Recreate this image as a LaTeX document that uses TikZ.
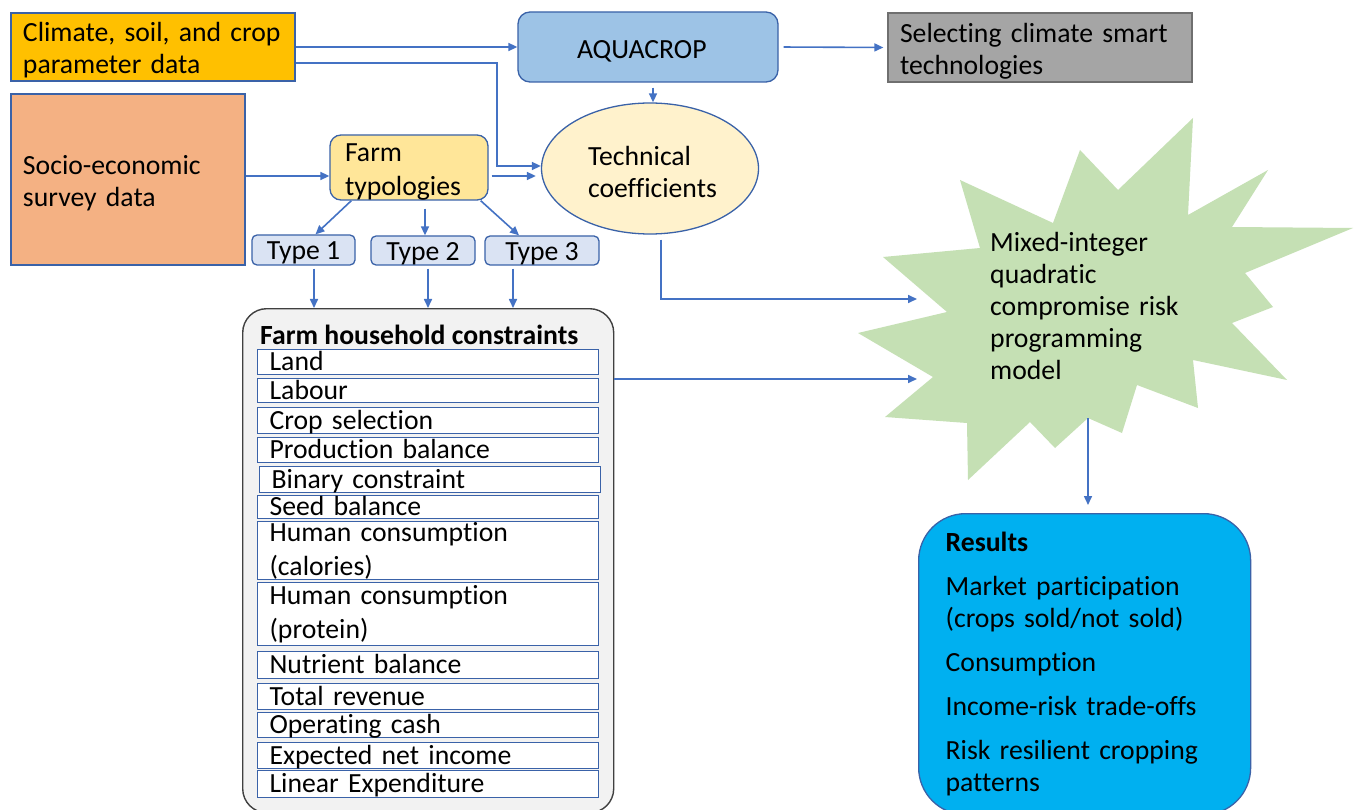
\documentclass[tikz,border=0pt]{standalone}
\usepackage{fontspec}
\setmainfont{Carlito}[Ligatures=NoCommon]
\usetikzlibrary{arrows.meta,calc,shapes.geometric}
\definecolor{bordc}{HTML}{3A62A8}
\definecolor{arrc}{HTML}{4472C4}
\definecolor{climc}{HTML}{FFC000}
\definecolor{socioc}{HTML}{F4B183}
\definecolor{aquac}{HTML}{9DC3E6}
\definecolor{selc}{HTML}{A5A5A5}
\definecolor{selb}{HTML}{6F6F6F}
\definecolor{farmc}{HTML}{FFE699}
\definecolor{techc}{HTML}{FFF2CC}
\definecolor{typc}{HTML}{DAE3F3}
\definecolor{consf}{HTML}{F2F2F2}
\definecolor{consb}{HTML}{404040}
\definecolor{starc}{HTML}{C5E0B4}
\definecolor{resc}{HTML}{00B0F0}
\begin{document}
\begin{tikzpicture}[x=1pt,y=-1pt,
  every node/.style={font=\fontsize{27.7}{32}\selectfont},
  box/.style={draw=bordc, line width=1.3pt, inner sep=0pt, align=left,
     execute at begin node={\rule{0pt}{26pt}}},
  typebox/.style={draw=bordc, line width=1.3pt, inner sep=0pt, fill=typc, rounded corners=5pt,
     align=center, execute at begin node={\rule{0pt}{24pt}}},
  rowbase/.style={draw=bordc, fill=white, line width=1.2pt, anchor=north west, inner sep=0pt,
     minimum width=341pt, text width=317pt, align=left},
  row/.style={rowbase, text height=19pt, text depth=2pt},
  arr/.style={draw=arrc, line width=1.6pt, -{Triangle[length=9pt,width=8pt]}}]
\useasboundingbox (0,0) rectangle (1357,810);
\clip (0,0) rectangle (1357,810);
\fill[white] (0,0) rectangle (1357,810);

% input boxes
\node[box, fill=climc, minimum width=284pt, minimum height=68pt, text width=260pt] (clim) at (153,47) {Climate, soil, and crop\\parameter data};
\node[box, fill=socioc, minimum width=234pt, minimum height=171pt, text width=210pt] (socio) at (128,179.5) {Socio-economic\\survey data};
\node[box, fill=aquac, rounded corners=12pt, minimum width=260pt, minimum height=70pt, text width=142pt] (aqua) at (648,47) {AQUACROP};
\node[box, draw=selb, fill=selc, minimum width=304pt, minimum height=69pt, text width=280pt] (sel) at (1040,47.5) {Selecting climate smart\\technologies};
\node[box, fill=farmc, rounded corners=11pt, minimum width=158pt, minimum height=65pt, text width=128pt] (farm) at (409,167.5) {Farm\\[2pt]typologies};
\node[box, ellipse, fill=techc, minimum width=217pt, minimum height=131pt, text width=124pt] (tech) at (650,168.5) {Technical\\coefficients};

% types
\node[typebox, minimum width=103pt, minimum height=30pt] (t1) at (303.5,250) {Type 1};
\node[typebox, minimum width=104pt, minimum height=29pt] (t2) at (423,250.5) {Type 2};
\node[typebox, minimum width=114pt, minimum height=29pt] (t3) at (542,250.5) {Type 3};

% constraints
\node[draw=consb, fill=consf, line width=1.4pt, rounded corners=24pt, minimum width=371pt, minimum height=504pt, anchor=north west, inner sep=0pt] (cons) at (242,308) {};
\node[anchor=base west, inner sep=0pt, font=\fontsize{27.7}{32}\selectfont\bfseries] (constitle) at (260,344) {Farm household constraints};
\node[row, minimum height=25pt] (r1) at (257,349) {Land};
\node[row, minimum height=24pt] (r2) at (257,378) {Labour};
\node[row, minimum height=26pt] (r3) at (257,407) {Crop selection};
\node[row, minimum height=25pt] (r4) at (257,437) {Production balance};
\node[row, minimum height=26pt] (r5) at (259,466) {Binary constraint};
\node[row, minimum height=23pt] (r6) at (257,495) {Seed balance};
\node[rowbase, minimum height=58pt] (r7) at (257,521) {Human consumption\\[2pt](calories)};
\node[rowbase, minimum height=63pt] (r8) at (257,582) {Human consumption\\[2pt](protein)};
\node[row, minimum height=27pt] (r9) at (257,651) {Nutrient balance};
\node[row, minimum height=26pt] (r10) at (257,683) {Total revenue};
\node[row, minimum height=25pt] (r11) at (257,712) {Operating cash};
\node[row, minimum height=26pt] (r12) at (257,742) {Expected net income};
\node[row, minimum height=27pt] (r13) at (257,770) {Linear Expenditure};

% star
\fill[starc] (960,180) -- (1053,223) -- (1080,150) -- (1118,190) -- (1193,118) -- (1188,215)
  -- (1268,170) -- (1232,227) -- (1353,228) -- (1245,273) -- (1273,307) -- (1232,323)
  -- (1287,380) -- (1193,360) -- (1198,408) -- (1137,385) -- (1122,433) -- (1088,418)
  -- (1055,448) -- (1030,422) -- (968,480) -- (967,423) -- (885,417) -- (933,377)
  -- (858,333) -- (947,312) -- (883,257) -- (980,248) -- cycle;
\node[anchor=west, text width=200pt, align=left, inner sep=0pt] (mip) at (990,306) {Mixed-integer\\quadratic\\compromise risk\\programming\\model};
\coordinate (mipin1) at (917,299);
\coordinate (mipin2) at (917,379);
\coordinate (mipout) at (1088,418);

% results
\node[draw=bordc, fill=resc, line width=1.3pt, rounded corners=47pt, anchor=north west, minimum width=332pt, minimum height=301pt, text width=278pt, align=left, inner sep=0pt] (res) at (918,513)
 {{\bfseries Results}\\[12pt]Market participation\\(crops sold/not sold)\\[12pt]Consumption\\[12pt]Income-risk trade-offs\\[12pt]Risk resilient cropping\\patterns};

% connectors
\draw[arr] (clim.east) -- (aqua.west);
\coordinate (bend) at (497,166);
\draw[arr] ([yshift=-16pt]clim.east) -| (bend) -- (bend -| tech.west);
\coordinate (s1) at ([yshift=3.5pt]socio.east);
\draw[arr] (s1) -- (s1 -| farm.west);
\coordinate (f1) at ([yshift=-8.5pt]farm.east);
\draw[arr, shorten <=3pt, shorten >=5pt] (f1) -- (f1 -| tech.west);
\draw[arr, shorten <=5pt, shorten >=4pt] (aqua.east) -- (sel.west);
\coordinate (a1) at ([xshift=5pt,yshift=-5pt]aqua.south);
\draw[arr] (a1) -- (a1 |- tech.north);
\draw[arr] ([xshift=22pt]farm.south west) -- ([xshift=12pt]t1.north);
\coordinate (f2) at ([xshift=16pt,yshift=-8pt]farm.south);
\draw[arr] (f2) -- (f2 |- t2.north);
\draw[arr] ([xshift=-8pt]farm.south east) -- ([xshift=-23pt]t3.north);
\coordinate (tt1) at ([xshift=10.5pt,yshift=-3pt]t1.south);
\draw[arr] (tt1) -- (tt1 |- cons.north);
\coordinate (tt2) at ([xshift=5pt,yshift=-3pt]t2.south);
\draw[arr] (tt2) -- (tt2 |- cons.north);
\coordinate (tt3) at ([xshift=-29pt,yshift=-3pt]t3.south);
\draw[arr] (tt3) -- (tt3 |- cons.north);
\coordinate (tc) at ([xshift=11pt,yshift=-5pt]tech.south);
\draw[arr] (tc) |- (mipin1);
\draw[arr] (cons.east |- mipin2) -- (mipin2);
\draw[arr, shorten >=8pt] (mipout) -- (mipout |- res.north);
\end{tikzpicture}
\end{document}
